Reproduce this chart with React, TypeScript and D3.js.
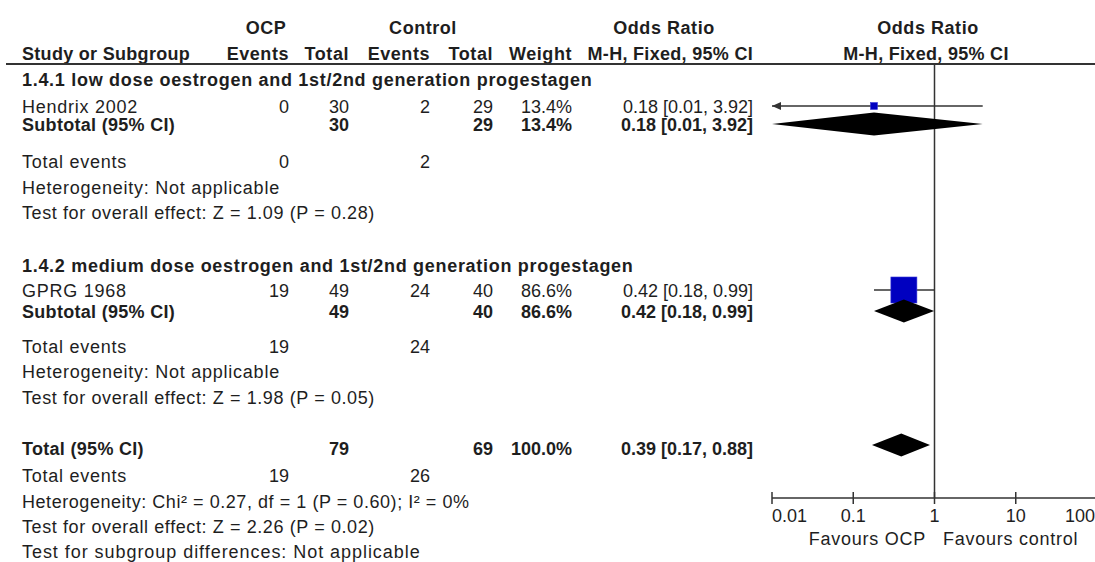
import React from "react";
import * as d3 from "d3";

// ---- data ----
const studyNames = ["Hendrix 2002", "GPRG 1968"];
const ocpEvents = [0, 19];
const ocpTotal = [30, 49];
const ctrlEvents = [2, 24];
const ctrlTotal = [29, 40];
const studyWeight = [13.4, 86.6];
const studyOR = [0.18, 0.42];
const studyLo = [0.008, 0.18];
const studyHi = [3.92, 0.99];

const groupTitles = [
  "1.4.1 low dose oestrogen and 1st/2nd generation progestagen",
  "1.4.2 medium dose oestrogen and 1st/2nd generation progestagen",
];
const groupOcpTotal = [30, 49];
const groupCtrlTotal = [29, 40];
const groupWeight = [13.4, 86.6];
const groupOR = [0.18, 0.42];
const groupLo = [0.008, 0.18];
const groupHi = [3.92, 0.99];
const groupOcpEvents = [0, 19];
const groupCtrlEvents = [2, 24];
const groupHet = ["Heterogeneity: Not applicable", "Heterogeneity: Not applicable"];
const groupTest = ["Test for overall effect: Z = 1.09 (P = 0.28)", "Test for overall effect: Z = 1.98 (P = 0.05)"];

const totalOcp = 79;
const totalCtrl = 69;
const totalWeight = 100.0;
const totalOR = 0.39;
const totalLo = 0.17;
const totalHi = 0.88;
const totalOcpEvents = 19;
const totalCtrlEvents = 26;
const totalHet = "Heterogeneity: Chi² = 0.27, df = 1 (P = 0.60); I² = 0%";
const totalTest = "Test for overall effect: Z = 2.26 (P = 0.02)";
const subgroupTest = "Test for subgroup differences: Not applicable";

const tickValues = [0.01, 0.1, 1, 10, 100];
const tickLabels = ["0.01", "0.1", "1", "10", "100"];

// ---- layout ----
const W = 1095;
const H = 562;
const FONT = "'Liberation Sans', Arial, sans-serif";
const FS = 18;
const LS_TEXT = 0.75;
const LS_BOLD = 0.55;
const LS_NUM = 0;
const TXT = "#1e1e1e";
const LINE = "#333";

const colRight = { ocpE: 289, ocpT: 349, ctlE: 430, ctlT: 493, wt: 572, or: 753 };
const leftX = 22;

const x = d3.scaleLog().domain([0.01, 100]).range([772, 1097]);
const sizeScale = d3.scaleLinear().domain([0, 100]).range([3.5, 29.5]);
const fmt2 = d3.format(".2f");
const fmtW = d3.format(".1f");

const rows = {
  h1: 27,
  h2: 53,
  groups: [
    { title: 79, study: 106, sub: 124, te: 161, het: 187, test: 212 },
    { title: 265, study: 290, sub: 311, te: 346, het: 371, test: 397 },
  ],
  total: 448,
  te: 475,
  het: 501,
  test: 526,
  sg: 551,
};

const axisY = 498;
const headerLineY = 64;

function T(props: { x: number; y: number; anchor?: string; bold?: boolean; children: React.ReactNode; ls?: number }) {
  const ls = props.ls !== undefined ? props.ls : props.bold ? LS_BOLD : LS_TEXT;
  return (
    <text
      x={props.x}
      y={props.y + 6.5}
      textAnchor={props.anchor || "start"}
      fontFamily={FONT}
      fontSize={FS}
      fontWeight={props.bold ? "bold" : "normal"}
      letterSpacing={ls}
      fill={TXT}
    >
      {props.children}
    </text>
  );
}

const ciText = (o: number, l: number, h: number) => `${fmt2(o)} [${fmt2(l)}, ${fmt2(h)}]`;

function Diamond({ o, l, h, y }: { o: number; l: number; h: number; y: number }) {
  const [d0, d1] = x.domain();
  const xl = x(Math.max(l, d0));
  const xh = x(Math.min(h, d1));
  const xm = x(o);
  const hh = 11.5;
  const p = d3.path();
  p.moveTo(xl, y);
  p.lineTo(xm, y - hh);
  p.lineTo(xh, y);
  p.lineTo(xm, y + hh);
  p.closePath();
  return <path d={p.toString()} fill="#000" />;
}

function Study({ o, l, h, w, y }: { o: number; l: number; h: number; w: number; y: number }) {
  const [d0, d1] = x.domain();
  const clipL = l < d0;
  const clipH = h > d1;
  const xl = x(Math.max(l, d0));
  const xh = x(Math.min(h, d1));
  const s = sizeScale(w);
  return (
    <g>
      <line x1={xl} x2={xh} y1={y} y2={y} stroke={LINE} strokeWidth={1.5} />
      {clipL && <path d={`M${xl},${y} L${xl + 9},${y - 4} L${xl + 9},${y + 4} Z`} fill={LINE} />}
      {clipH && <path d={`M${xh},${y} L${xh - 9},${y - 4} L${xh - 9},${y + 4} Z`} fill={LINE} />}
      <rect x={x(o) - s / 2} y={y - s / 2} width={s} height={s} fill="#0000c0" stroke="#3a3ad8" strokeWidth={0.6} />
    </g>
  );
}

export default function App() {
  return (
    <svg width={W} height={H} style={{ position: "absolute", left: 0, top: 0, background: "#fff" }}>
      <rect width={W} height={H} fill="#fff" />
      {/* header row 1 */}
      <T x={266} y={rows.h1} anchor="middle" bold>OCP</T>
      <T x={423} y={rows.h1} anchor="middle" bold>Control</T>
      <T x={664} y={rows.h1} anchor="middle" bold>Odds Ratio</T>
      <T x={928} y={rows.h1} anchor="middle" bold>Odds Ratio</T>
      {/* header row 2 */}
      <T x={leftX} y={rows.h2} bold ls={0.3}>Study or Subgroup</T>
      <T x={colRight.ocpE} y={rows.h2} anchor="end" bold>Events</T>
      <T x={colRight.ocpT} y={rows.h2} anchor="end" bold>Total</T>
      <T x={colRight.ctlE} y={rows.h2} anchor="end" bold>Events</T>
      <T x={colRight.ctlT} y={rows.h2} anchor="end" bold>Total</T>
      <T x={colRight.wt} y={rows.h2} anchor="end" bold>Weight</T>
      <T x={colRight.or} y={rows.h2} anchor="end" bold ls={0.3}>M-H, Fixed, 95% CI</T>
      <T x={926} y={rows.h2} anchor="middle" bold ls={0.3}>M-H, Fixed, 95% CI</T>
      <line x1={6} x2={W} y1={headerLineY} y2={headerLineY} stroke={LINE} strokeWidth={2} />

      {/* reference line */}
      <line x1={x(1)} x2={x(1)} y1={headerLineY} y2={axisY} stroke={LINE} strokeWidth={1.5} />

      {rows.groups.map((r, i) => (
        <g key={i}>
          <T x={leftX} y={r.title} bold ls={0.7}>{groupTitles[i]}</T>
          <T x={leftX} y={r.study}>{studyNames[i]}</T>
          <T x={colRight.ocpE} y={r.study} anchor="end" ls={LS_NUM}>{ocpEvents[i]}</T>
          <T x={colRight.ocpT} y={r.study} anchor="end" ls={LS_NUM}>{ocpTotal[i]}</T>
          <T x={colRight.ctlE} y={r.study} anchor="end" ls={LS_NUM}>{ctrlEvents[i]}</T>
          <T x={colRight.ctlT} y={r.study} anchor="end" ls={LS_NUM}>{ctrlTotal[i]}</T>
          <T x={colRight.wt} y={r.study} anchor="end" ls={LS_NUM}>{fmtW(studyWeight[i])}%</T>
          <T x={colRight.or} y={r.study} anchor="end" ls={LS_NUM}>{ciText(studyOR[i], studyLo[i], studyHi[i])}</T>
          <Study o={studyOR[i]} l={studyLo[i]} h={studyHi[i]} w={studyWeight[i]} y={r.study} />

          <T x={leftX} y={r.sub} bold ls={0.3}>Subtotal (95% CI)</T>
          <T x={colRight.ocpT} y={r.sub} anchor="end" bold ls={LS_NUM}>{groupOcpTotal[i]}</T>
          <T x={colRight.ctlT} y={r.sub} anchor="end" bold ls={LS_NUM}>{groupCtrlTotal[i]}</T>
          <T x={colRight.wt} y={r.sub} anchor="end" bold ls={LS_NUM}>{fmtW(groupWeight[i])}%</T>
          <T x={colRight.or} y={r.sub} anchor="end" bold ls={LS_NUM}>{ciText(groupOR[i], groupLo[i], groupHi[i])}</T>
          <Diamond o={groupOR[i]} l={groupLo[i]} h={groupHi[i]} y={r.sub} />

          <T x={leftX} y={r.te}>Total events</T>
          <T x={colRight.ocpE} y={r.te} anchor="end" ls={LS_NUM}>{groupOcpEvents[i]}</T>
          <T x={colRight.ctlE} y={r.te} anchor="end" ls={LS_NUM}>{groupCtrlEvents[i]}</T>
          <T x={leftX} y={r.het}>{groupHet[i]}</T>
          <T x={leftX} y={r.test} ls={0.6}>{groupTest[i]}</T>
        </g>
      ))}

      {/* overall */}
      <T x={leftX} y={rows.total} bold ls={0.3}>Total (95% CI)</T>
      <T x={colRight.ocpT} y={rows.total} anchor="end" bold ls={LS_NUM}>{totalOcp}</T>
      <T x={colRight.ctlT} y={rows.total} anchor="end" bold ls={LS_NUM}>{totalCtrl}</T>
      <T x={colRight.wt} y={rows.total} anchor="end" bold ls={LS_NUM}>{fmtW(totalWeight)}%</T>
      <T x={colRight.or} y={rows.total} anchor="end" bold ls={LS_NUM}>{ciText(totalOR, totalLo, totalHi)}</T>
      <Diamond o={totalOR} l={totalLo} h={totalHi} y={rows.total - 3} />
      <T x={leftX} y={rows.te}>Total events</T>
      <T x={colRight.ocpE} y={rows.te} anchor="end" ls={LS_NUM}>{totalOcpEvents}</T>
      <T x={colRight.ctlE} y={rows.te} anchor="end" ls={LS_NUM}>{totalCtrlEvents}</T>
      <T x={leftX} y={rows.het} ls={0.55}>{totalHet}</T>
      <T x={leftX} y={rows.test} ls={0.6}>{totalTest}</T>
      <T x={leftX} y={rows.sg} ls={0.95}>{subgroupTest}</T>

      {/* axis */}
      <line x1={x(0.01)} x2={W} y1={axisY} y2={axisY} stroke={LINE} strokeWidth={1.5} />
      {tickValues.map((v, i) => (
        <g key={v}>
          <line x1={x(v)} x2={x(v)} y1={axisY - 6} y2={axisY + 6} stroke={LINE} strokeWidth={1.5} />
          <T
            x={i === 0 ? x(v) : i === tickValues.length - 1 ? W : x(v)}
            y={515}
            anchor={i === 0 ? "start" : i === tickValues.length - 1 ? "end" : "middle"}
            ls={0}
          >
            {tickLabels[i]}
          </T>
        </g>
      ))}
      <T x={926} y={538} anchor="end">Favours OCP</T>
      <T x={943} y={538} anchor="start">Favours control</T>
    </svg>
  );
}
